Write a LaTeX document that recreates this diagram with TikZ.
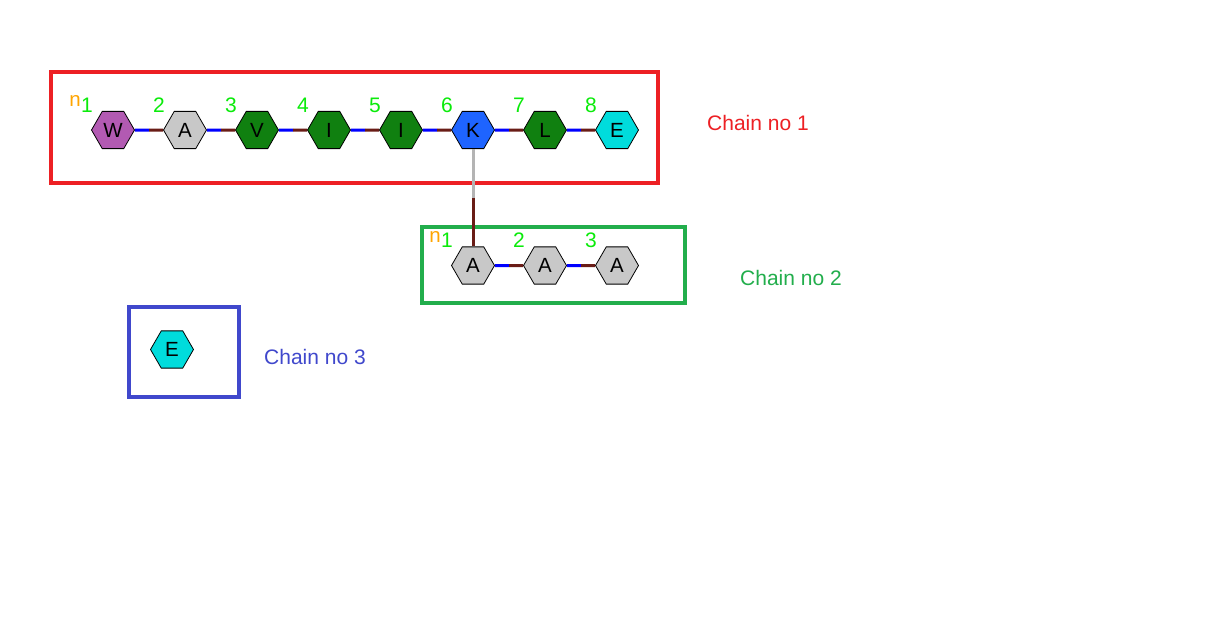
\documentclass[tikz,border=0pt]{standalone}
\usepackage{fontspec}
\setmainfont{Liberation Sans}
\usetikzlibrary{shapes.geometric,calc}
\definecolor{boxred}{RGB}{237,32,36}
\definecolor{boxgreen}{RGB}{34,174,76}
\definecolor{boxblue}{RGB}{64,72,204}
\definecolor{numgreen}{RGB}{10,235,10}
\definecolor{norange}{RGB}{255,165,0}
\definecolor{hpurple}{RGB}{178,90,178}
\definecolor{hgrey}{RGB}{200,200,200}
\definecolor{hgreen}{RGB}{16,128,16}
\definecolor{hblue}{RGB}{30,100,255}
\definecolor{hcyan}{RGB}{0,220,220}
\definecolor{bblue}{RGB}{0,0,255}
\definecolor{bbrown}{RGB}{105,28,22}
\definecolor{bgrey}{RGB}{180,180,180}
\tikzset{
  hex/.style={regular polygon, regular polygon sides=6, minimum size=43pt, inner sep=0pt,
    draw=black, line width=0.8pt, font=\fontsize{20.5}{24}\selectfont},
  chainbox/.style={line width=4pt},
  bondA/.style={line width=3pt, bblue},
  bondB/.style={line width=3pt, bbrown},
  bondG/.style={line width=3pt, bgrey},
  numlbl/.style={text=numgreen, font=\fontsize{21}{25}\selectfont, inner sep=0pt},
  nlbl/.style={text=norange, font=\fontsize{20.5}{24}\selectfont, inner sep=0pt},
  chainlbl/.style={font=\fontsize{21}{25}\selectfont, inner sep=0pt, anchor=west}
}
\begin{document}
\begin{tikzpicture}[x=1pt,y=-1pt]
\useasboundingbox[fill=white] (0,0) rectangle (1231,635);
% boxes
\draw[chainbox, boxred] (51,72) rectangle (658,183);
\draw[chainbox, boxgreen] (421.5,227) rectangle (684.5,303);
\draw[chainbox, boxblue] (129,306.5) rectangle (239,396.5);
% chain labels
\node[chainlbl, text=boxred] (lbl1) at (707,123) {Chain no 1};
\node[chainlbl, text=boxgreen] (lbl2) at (740,278) {Chain no 2};
\node[chainlbl, text=boxblue] (lbl3) at (264,357) {Chain no 3};
% chain 1
\node[hex, fill=hpurple] (c1) at (113,130) {W};
\node[hex, fill=hgrey]   (c2) at (185,130) {A};
\node[hex, fill=hgreen]  (c3) at (257,130) {V};
\node[hex, fill=hgreen]  (c4) at (329,130) {I};
\node[hex, fill=hgreen]  (c5) at (401,130) {I};
\node[hex, fill=hblue]   (c6) at (473,130) {K};
\node[hex, fill=hgreen]  (c7) at (545,130) {L};
\node[hex, fill=hcyan]   (c8) at (617,130) {E};
% chain 2
\node[hex, fill=hgrey] (d1) at (473,265.5) {A};
\node[hex, fill=hgrey] (d2) at (545,265.5) {A};
\node[hex, fill=hgrey] (d3) at (617,265.5) {A};
% chain 3
\node[hex, fill=hcyan] (e1) at (172,349.5) {E};
% bonds
\foreach \a/\b in {c1/c2,c2/c3,c3/c4,c4/c5,c5/c6,c6/c7,c7/c8,d1/d2,d2/d3}{
  \draw[bondA] (\a.east) -- ($(\a.east)!0.5!(\b.west)$);
  \draw[bondB] ($(\a.east)!0.5!(\b.west)$) -- (\b.west);
}
% cross-chain bond
\draw[bondG] (c6.south) -- ($(c6.south)!0.5!(d1.north)$);
\draw[bondB] ($(c6.south)!0.5!(d1.north)$) -- (d1.north);
% numbers chain 1
\foreach \i in {1,...,8}{
  \node[numlbl] (n1-\i) at ($(c\i)+(-26,-25)$) {\i};
}
\node[nlbl] (o1) at ($(c1)+(-38,-29)$) {n};
% numbers chain 2
\foreach \i in {1,2,3}{
  \node[numlbl] (n2-\i) at ($(d\i)+(-26,-25)$) {\i};
}
\node[nlbl] (o2) at ($(d1)+(-38,-29)$) {n};
\end{tikzpicture}
\end{document}
